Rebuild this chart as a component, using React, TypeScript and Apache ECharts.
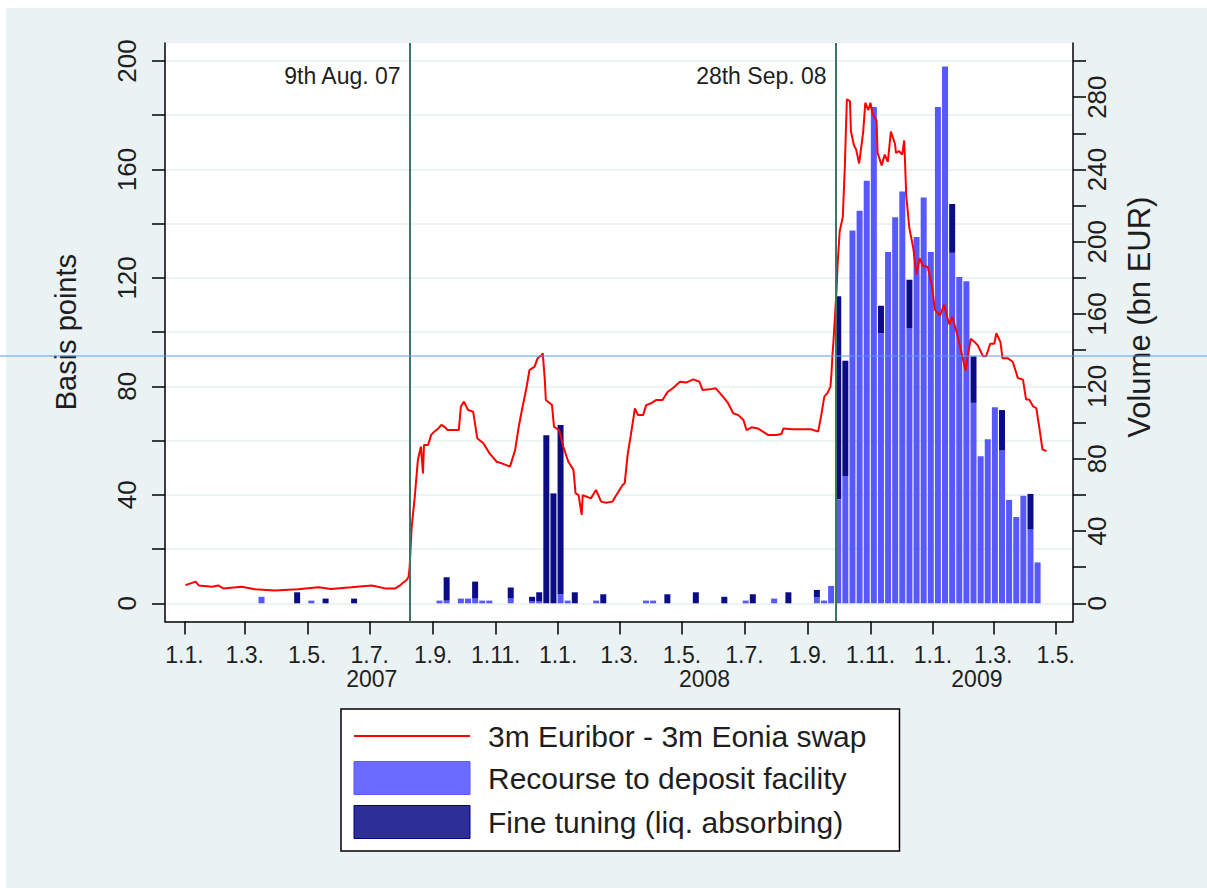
import React, { useEffect, useRef } from 'react';
import * as echarts from 'echarts';

// ---------- data ----------
const lineDates = [
  '2007-01-02','2007-01-12','2007-01-15','2007-01-28','2007-02-03','2007-02-08','2007-02-26','2007-03-11','2007-03-30','2007-04-22',
  '2007-05-12','2007-05-24','2007-06-13','2007-07-03','2007-07-16','2007-07-26','2007-07-31','2007-08-02','2007-08-06','2007-08-08',
  '2007-08-09','2007-08-11','2007-08-14','2007-08-17','2007-08-20','2007-08-22','2007-08-23','2007-08-27','2007-08-30','2007-09-02',
  '2007-09-06','2007-09-09','2007-09-12','2007-09-15','2007-09-22','2007-09-26','2007-09-28','2007-10-01','2007-10-05','2007-10-10',
  '2007-10-14','2007-10-20','2007-10-26','2007-11-02','2007-11-07','2007-11-15','2007-11-20','2007-11-23','2007-11-26','2007-12-01',
  '2007-12-04','2007-12-09','2007-12-12','2007-12-16','2007-12-17','2007-12-19','2007-12-20','2007-12-26','2007-12-28','2008-01-02',
  '2008-01-06','2008-01-11','2008-01-16','2008-01-18','2008-01-21','2008-01-24','2008-01-25','2008-01-29','2008-02-02','2008-02-07',
  '2008-02-12','2008-02-17','2008-02-23','2008-02-28','2008-03-04','2008-03-06','2008-03-09','2008-03-12','2008-03-16','2008-03-19',
  '2008-03-24','2008-03-27','2008-04-01','2008-04-06','2008-04-12','2008-04-17','2008-04-22','2008-04-29','2008-05-05','2008-05-12',
  '2008-05-18','2008-05-21','2008-05-28','2008-06-03','2008-06-10','2008-06-15','2008-06-20','2008-06-25','2008-06-30','2008-07-03',
  '2008-07-08','2008-07-14','2008-07-19','2008-07-24','2008-08-01','2008-08-06','2008-08-08','2008-08-17','2008-08-27','2008-09-04',
  '2008-09-11','2008-09-14','2008-09-17','2008-09-20','2008-09-23','2008-09-24','2008-09-25','2008-09-26','2008-09-29','2008-09-30',
  '2008-10-02','2008-10-05','2008-10-07','2008-10-09','2008-10-12','2008-10-13','2008-10-16','2008-10-18','2008-10-21','2008-10-25',
  '2008-10-27','2008-10-30','2008-11-01','2008-11-03','2008-11-07','2008-11-08','2008-11-12','2008-11-15','2008-11-18','2008-11-21',
  '2008-11-25','2008-11-26','2008-11-29','2008-12-02','2008-12-04','2008-12-05','2008-12-06','2008-12-09','2008-12-13','2008-12-16',
  '2008-12-19','2008-12-22','2008-12-27','2008-12-31','2009-01-03','2009-01-08','2009-01-12','2009-01-14','2009-01-17','2009-01-20',
  '2009-01-22','2009-01-25','2009-01-29','2009-02-02','2009-02-04','2009-02-07','2009-02-11','2009-02-14','2009-02-19','2009-02-22',
  '2009-02-26','2009-03-02','2009-03-04','2009-03-08','2009-03-10','2009-03-15','2009-03-20','2009-03-25','2009-03-30','2009-04-02',
  '2009-04-05','2009-04-09','2009-04-12','2009-04-15','2009-04-18','2009-04-22',
];
const spreadBp = [
  6.7, 8.0, 6.6, 6.1, 6.6, 5.5, 6.1, 5.2, 4.7, 5.2,
  5.9, 5.3, 5.9, 6.6, 5.5, 5.5, 6.7, 7.4, 8.6, 9.8,
  13.5, 28.3, 39.3, 52.8, 57.8, 47.9, 58.4, 58.4, 62.1, 63.3,
  64.5, 65.8, 65.1, 63.9, 63.9, 63.9, 72.5, 74.4, 71.3, 70.7,
  60.9, 59.0, 55.3, 52.2, 51.6, 50.4, 56.5, 63.9, 70.1, 79.3,
  86.0, 87.3, 90.4, 91.6, 92.2, 82.4, 75.0, 73.1, 65.1, 63.9,
  57.8, 52.2, 49.2, 40.6, 39.9, 32.6, 39.9, 39.3, 38.7, 41.8,
  37.5, 37.1, 37.5, 40.6, 43.6, 44.3, 55.0, 62.0, 71.9, 69.4,
  69.4, 73.1, 73.8, 75.0, 75.0, 78.0, 79.3, 81.7, 81.4, 82.6,
  81.7, 78.7, 78.9, 79.3, 76.2, 73.8, 70.1, 69.4, 67.6, 63.9,
  64.9, 64.5, 63.3, 62.1, 62.1, 62.4, 64.5, 64.2, 64.2, 64.2,
  63.3, 69.4, 76.2, 77.5, 79.9, 85.0, 92.0, 97.1, 116.1, 125.3,
  137.2, 142.4, 160.9, 185.9, 185.2, 174.0, 168.8, 167.4, 162.2, 174.0,
  184.6, 181.9, 184.6, 180.6, 178.0, 166.1, 161.5, 165.5, 162.8, 174.0,
  169.4, 166.1, 166.8, 165.5, 170.7, 160.9, 150.3, 138.5, 130.6, 121.3,
  127.3, 124.6, 124.0, 117.4, 108.2, 106.2, 110.2, 106.8, 102.9, 105.6,
  102.9, 98.9, 92.3, 85.8, 91.1, 97.6, 96.3, 95.0, 91.1, 91.1,
  95.7, 95.7, 99.6, 96.3, 90.4, 90.4, 89.1, 83.1, 82.5, 75.2,
  75.2, 72.6, 72.0, 64.7, 56.8, 56.1,
];

const barDates = [
  '2007-03-15','2007-04-19','2007-05-03','2007-05-17','2007-06-14',
  '2007-09-06','2007-09-13','2007-09-27','2007-10-04','2007-10-11','2007-10-18','2007-10-25','2007-11-15',
  '2007-12-06','2007-12-13','2007-12-20','2007-12-27','2008-01-03','2008-01-10','2008-01-17','2008-02-07','2008-02-14',
  '2008-03-27','2008-04-03','2008-04-17','2008-05-15','2008-06-12','2008-07-03','2008-07-10','2008-07-31','2008-08-14',
  '2008-09-11','2008-09-18','2008-09-25',
  '2008-10-02','2008-10-09','2008-10-16','2008-10-23','2008-10-30','2008-11-06','2008-11-13','2008-11-20','2008-11-27',
  '2008-12-04','2008-12-11','2008-12-18','2008-12-25','2009-01-01','2009-01-08','2009-01-15','2009-01-22','2009-01-29',
  '2009-02-05','2009-02-12','2009-02-19','2009-02-26','2009-03-05','2009-03-12','2009-03-19','2009-03-26','2009-04-02',
  '2009-04-09','2009-04-16',
];
const depositVol = [
  3.6, 0, 1.5, 0, 0,
  1.5, 1.5, 2.6, 2.6, 2.6, 1.5, 1.5, 2.6,
  1.0, 1.0, 0, 0, 5.0, 1.5, 0, 1.5, 0,
  1.5, 1.5, 0, 0, 0, 1.5, 0, 2.6, 0,
  3.3, 1.5, 9.6,
  57.5, 70.4, 206.3, 217.2, 233.8, 274.5, 149.4, 194.4, 213.6,
  227.8, 152.3, 202.7, 224.5, 194.4, 274.5, 297.0, 193.9, 180.5,
  178.1, 110.9, 81.3, 90.7, 108.5, 84.6, 57.2, 47.7, 59.5,
  40.8, 22.6,
];
const fineTuningVol = [
  0, 6.1, 0, 2.6, 2.6,
  0, 12.9, 0, 0, 9.4, 0, 0, 6.2,
  2.6, 5.1, 92.9, 60.8, 93.6, 0, 6.1, 0, 5.0,
  0, 0, 5.0, 6.1, 3.6, 0, 5.0, 0, 6.1,
  4.1, 0, 0,
  112.3, 63.8, 0, 0, 0, 0, 15.2, 0, 0,
  0, 26.7, 0, 0, 0, 0, 0, 27.0, 0,
  0, 25.7, 0, 0, 0, 22.3, 0, 0, 0,
  19.7, 0,
];

const xTickDates = [
  '2007-01-01','2007-03-01','2007-05-01','2007-07-01','2007-09-01','2007-11-01',
  '2008-01-01','2008-03-01','2008-05-01','2008-07-01','2008-09-01','2008-11-01',
  '2009-01-01','2009-03-01','2009-05-01',
];
const yearLabels = ['2007', '2008', '2009'];
const yearLabelDates = ['2007-07-03', '2008-05-23', '2009-02-13'];
const eventDates = ['2007-08-09', '2008-09-28'];
const eventLabels = ['9th Aug. 07', '28th Sep. 08'];
const seriesNames = ['3m Euribor - 3m Eonia swap', 'Recourse to deposit facility', 'Fine tuning (liq. absorbing)'];

// ---------- helpers / layout ----------
const DAY = 86400000;
const t = (s: string) => {
  const [y, m, d] = s.split('-').map(Number);
  return Date.UTC(y, m - 1, d);
};
const W = 1207;
const H = 888;
const PLOT_L = 165;
const PLOT_R = 1073;
const FRAME_T = 43;
const FRAME_B = 621.5;
const Y0 = 603.3;
const Y200 = 61;
const pxPerBp = (Y0 - Y200) / 200;
const bpMin = -(FRAME_B - Y0) / pxPerBp;
const bpMax = 200 + (Y200 - FRAME_T) / pxPerBp;
const VOL_PER_BP = 1.5;
const X_REF_PX = 184.4; // pixel of 2007-01-01
const PX_PER_DAY = 1.0239;
const xMin = t('2007-01-01') + ((PLOT_L - X_REF_PX) / PX_PER_DAY) * DAY;
const xMax = t('2007-01-01') + ((PLOT_R - X_REF_PX) / PX_PER_DAY) * DAY;
const EVENT_LABEL_BP = 194.5;

const FONT = 'Liberation Sans, Arial, Helvetica, sans-serif';
const TXT = '#1e1e1e';
const BG = '#eaf2f3';

export default function App() {
  const ref = useRef<HTMLDivElement>(null);
  useEffect(() => {
    const el = ref.current;
    if (!el) return;
    const chart = echarts.init(el, null, { renderer: 'svg' });
    const yearTs = yearLabelDates.map(t);
    const tickTs = xTickDates.map(t);
    const option: any = {
      animation: false,
      backgroundColor: BG,
      textStyle: { fontFamily: FONT, color: TXT },
      grid: [
        { left: PLOT_L, right: W - PLOT_R, top: FRAME_T, bottom: H - FRAME_B, show: true, backgroundColor: '#ffffff', borderWidth: 0 },
        { left: PLOT_L, right: W - PLOT_R, top: Y200, bottom: H - Y0, show: false },
      ],
      xAxis: [
        {
          gridIndex: 0, type: 'value', min: xMin, max: xMax, position: 'bottom',
          axisLine: { show: true, onZero: false, lineStyle: { color: '#000', width: 1.5 } },
          axisTick: { show: true, customValues: tickTs, length: 13, lineStyle: { color: '#000', width: 1.5 } },
          axisLabel: {
            show: true, customValues: tickTs, margin: 22, fontSize: 23, lineHeight: 22, color: TXT, fontFamily: FONT,
            formatter: (v: number) => { const d = new Date(v); return d.getUTCDate() + '.' + (d.getUTCMonth() + 1) + '.'; },
          },
          splitLine: { show: false },
        },
        {
          gridIndex: 0, type: 'value', min: xMin, max: xMax, position: 'bottom',
          axisLine: { show: false, onZero: false }, axisTick: { show: false },
          axisLabel: {
            show: true, customValues: yearTs, margin: 46, fontSize: 23, lineHeight: 22, color: TXT, fontFamily: FONT,
            formatter: (v: number) => { const i = yearTs.indexOf(v); return i >= 0 ? yearLabels[i] : ''; },
          },
          splitLine: { show: false },
        },
        { gridIndex: 1, type: 'value', min: xMin, max: xMax, show: false },
        // hidden time axis for the stacked weekly bars (same scale as the visible one)
        { gridIndex: 0, type: 'time', min: xMin, max: xMax, show: false, axisLine: { onZero: false } },
      ],
      yAxis: [
        {
          gridIndex: 0, type: 'value', min: bpMin, max: bpMax, position: 'left',
          axisLine: { show: true, onZero: false, lineStyle: { color: '#000', width: 1.5 } },
          axisTick: { show: false }, axisLabel: { show: false }, splitLine: { show: false },
        },
        {
          gridIndex: 0, type: 'value', min: bpMin * VOL_PER_BP, max: bpMax * VOL_PER_BP, position: 'right',
          axisLine: { show: true, onZero: false, lineStyle: { color: '#000', width: 1.5 } },
          axisTick: { show: false }, axisLabel: { show: false }, splitLine: { show: false },
        },
        {
          gridIndex: 1, type: 'value', min: 0, max: 200, interval: 20, position: 'left',
          axisLine: { show: false },
          axisTick: { show: true, length: 13, lineStyle: { color: '#000', width: 1.5 } },
          axisLabel: {
            show: true, rotate: 90, margin: 25, fontSize: 26, color: TXT, fontFamily: FONT,
            formatter: (v: number) => (v % 40 === 0 ? String(v) : ''),
          },
          splitLine: { show: true, lineStyle: { color: '#e6eff1', width: 1.5 } },
          name: 'Basis points', nameLocation: 'middle', nameRotate: 90, nameGap: 85,
          nameTextStyle: { fontSize: 29, color: TXT, fontFamily: FONT },
        },
        {
          gridIndex: 1, type: 'value', min: 0, max: 300, interval: 20, position: 'right',
          axisLine: { show: false },
          axisTick: { show: true, length: 13, lineStyle: { color: '#000', width: 1.5 } },
          axisLabel: {
            show: true, rotate: 90, margin: 11, fontSize: 26, color: TXT, fontFamily: FONT,
            formatter: (v: number) => (v % 40 === 0 ? String(v) : ''),
          },
          splitLine: { show: false },
          name: 'Volume (bn EUR)', nameLocation: 'middle', nameRotate: 90, nameGap: 51,
          nameTextStyle: { fontSize: 31, color: TXT, fontFamily: FONT, padding: [0, 0, 0, 30] },
        },
      ],
      legend: {
        orient: 'vertical', left: 341, top: 709,
        padding: [12, 33, 12, 12],
        itemWidth: 116, itemHeight: 33, itemGap: 10,
        backgroundColor: '#ffffff', borderColor: '#000', borderWidth: 1.5,
        textStyle: { fontSize: 30, color: TXT, fontFamily: FONT, padding: [0, 0, 0, 13] },
        selectedMode: false,
        data: [
          { name: seriesNames[0], itemStyle: { color: 'rgba(0,0,0,0)', borderWidth: 0, opacity: 0 }, lineStyle: { color: '#ff0000', width: 2 } },
          { name: seriesNames[1], icon: 'rect', itemStyle: { color: '#6b6bff', borderColor: '#5a5aff', borderWidth: 1 } },
          { name: seriesNames[2], icon: 'rect', itemStyle: { color: '#2e2e99', borderColor: '#000080', borderWidth: 1 } },
        ],
      },
      series: [
        {
          name: seriesNames[1], type: 'bar', xAxisIndex: 3, yAxisIndex: 1, stack: 'vol', barWidth: 6,
          data: barDates.map((d, i) => [t(d), depositVol[i]]),
          itemStyle: { color: '#5858ff' }, z: 2,
        },
        {
          name: seriesNames[2], type: 'bar', xAxisIndex: 3, yAxisIndex: 1, stack: 'vol', barWidth: 6,
          data: barDates.map((d, i) => [t(d), fineTuningVol[i]]),
          itemStyle: { color: '#0c0c84' }, z: 2,
        },
        {
          name: seriesNames[0], type: 'line', xAxisIndex: 0, yAxisIndex: 0,
          data: lineDates.map((d, i) => [t(d), spreadBp[i]]),
          symbol: 'none', showSymbol: false,
          lineStyle: { color: '#ff0000', width: 2 }, itemStyle: { color: '#ff0000' }, z: 4,
          markLine: {
            silent: true, symbol: ['none', 'none'], animation: false,
            label: { show: false },
            lineStyle: { color: '#3b7565', width: 2, type: 'solid' },
            data: eventDates.map((d) => ({ xAxis: t(d) })),
          },
          markPoint: {
            silent: true, symbol: 'circle', symbolSize: 0, animation: false,
            itemStyle: { color: 'rgba(0,0,0,0)' },
            data: eventDates.map((d, i) => ({
              coord: [t(d), EVENT_LABEL_BP],
              label: { show: true, position: 'left', distance: 9, formatter: eventLabels[i], fontSize: 23, color: TXT, fontFamily: FONT },
            })),
          },
        },
      ],
      graphic: [
        { type: 'rect', shape: { x: 0, y: 0, width: W, height: 8 }, style: { fill: '#ffffff' }, silent: true },
        { type: 'rect', shape: { x: 0, y: 0, width: 6, height: H }, style: { fill: '#ffffff' }, silent: true },
        { type: 'line', shape: { x1: 0, y1: 356, x2: W, y2: 356 }, style: { stroke: '#5b9bf0', lineWidth: 1 }, z: 100, silent: true },
      ],
    };
    chart.setOption(option);
    return () => chart.dispose();
  }, []);
  return <div ref={ref} style={{ position: 'fixed', left: 0, top: 0, width: W, height: H }} />;
}
